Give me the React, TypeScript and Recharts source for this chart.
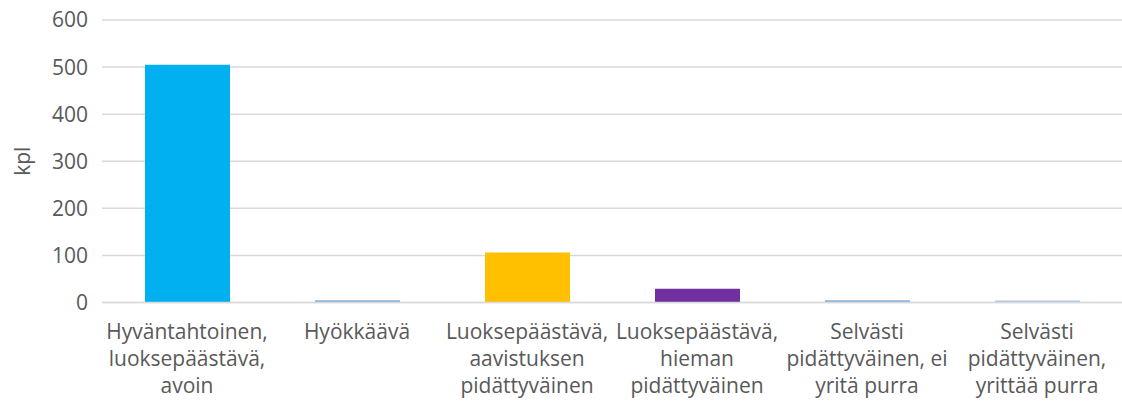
import React from 'react';
import { BarChart, Bar, XAxis, YAxis, CartesianGrid, Cell, Label } from 'recharts';

const categories: string[][] = [
  ['Hyväntahtoinen,', 'luoksepäästävä,', 'avoin'],
  ['Hyökkäävä'],
  ['Luoksepäästävä,', 'aavistuksen', 'pidättyväinen'],
  ['Luoksepäästävä,', 'hieman', 'pidättyväinen'],
  ['Selvästi', 'pidättyväinen, ei', 'yritä purra'],
  ['Selvästi', 'pidättyväinen,', 'yrittää purra'],
];
const values: number[] = [505, 5, 106, 29, 5, 4];
const colors: string[] = ['#00B0F0', '#86AEDC', '#FFC000', '#7030A0', '#86AEDC', '#A9C5E8'];
const yTicks: number[] = [0, 100, 200, 300, 400, 500, 600];
const yLabel = 'kpl';

const data = categories.map((c, i) => ({ key: String(i), lines: c, value: values[i] }));

const FONT = '"Open Sans", sans-serif';
const TEXT = '#595959';
const FS = 21;

const XTick = (props: any) => {
  const { x, y, payload } = props;
  const lines = categories[Number(payload.value)];
  return (
    <text x={x} y={y} textAnchor="middle" fill={TEXT} fontFamily={FONT} fontSize={FS}>
      {lines.map((l, i) => (
        <tspan key={i} x={x} dy={i === 0 ? 34 : 27}>
          {l}
        </tspan>
      ))}
    </text>
  );
};

export default function App() {
  return (
    <div style={{ position: 'absolute', left: 0, top: 0, background: '#fff' }}>
      <BarChart width={1122} height={403} data={data} margin={{ top: 20, right: 0, bottom: 0, left: 0 }}>
        <CartesianGrid vertical={false} stroke="#D9D9D9" strokeWidth={1.5} />
        <XAxis
          dataKey="key"
          tick={<XTick />}
          tickLine={false}
          axisLine={{ stroke: '#D9D9D9', strokeWidth: 1.5 }}
          tickSize={0}
          height={100.5}
          interval={0}
        />
        <YAxis
          width={102}
          domain={[0, 600]}
          ticks={yTicks}
          tickLine={false}
          axisLine={false}
          tickSize={0}
          tickMargin={14}
          tick={{ fill: TEXT, fontFamily: FONT, fontSize: FS }}
        >
          <Label
            content={(p: any) => {
              const vb = p.viewBox;
              const cx = vb.x + 22;
              const cy = vb.y + vb.height / 2;
              return (
                <text
                  x={cx}
                  y={cy}
                  transform={`rotate(-90 ${cx} ${cy})`}
                  textAnchor="middle"
                  dominantBaseline="central"
                  fill={TEXT}
                  fontFamily={FONT}
                  fontSize={FS}
                >
                  {yLabel}
                </text>
              );
            }}
          />
        </YAxis>
        <Bar dataKey="value" barSize={85} isAnimationActive={false}>
          {data.map((d, i) => (
            <Cell key={d.key} fill={colors[i]} />
          ))}
        </Bar>
      </BarChart>
    </div>
  );
}
